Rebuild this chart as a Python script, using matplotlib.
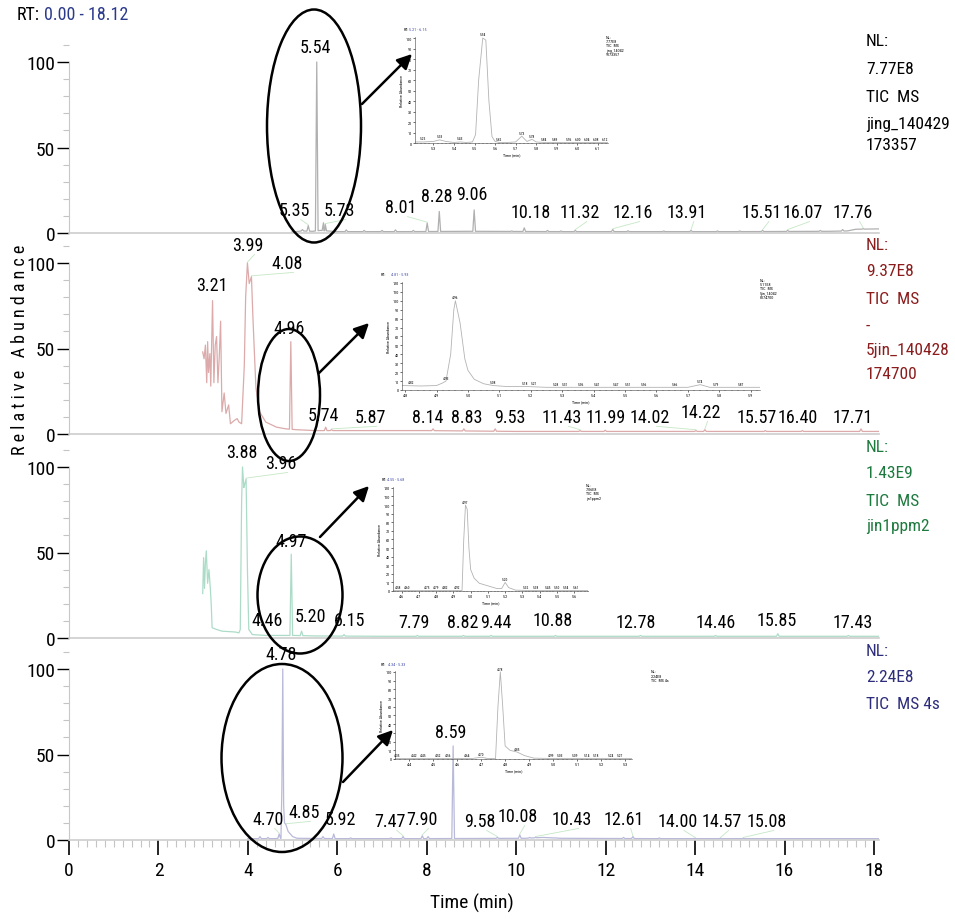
import numpy as np
import matplotlib.pyplot as plt
from matplotlib import font_manager
from matplotlib.patches import Ellipse, FancyArrowPatch
from matplotlib.ticker import MultipleLocator, FormatStrFormatter

W, H = 955, 920
XMAX = 18.12

# prefer a narrow sans face; fall back to a condensed DejaVu, then plain Liberation Sans
entries = font_manager.fontManager.ttflist
names = {f.name for f in entries}
narrow = [c for c in ('Liberation Sans Narrow', 'Arial Narrow', 'Roboto Condensed',
                      'Open Sans Condensed') if c in names]
if narrow:
    FONT, SHRINK = narrow[0], 1.0
elif any(f.name == 'DejaVu Sans' and f.stretch == 'condensed' for f in entries):
    FONT, SHRINK = 'DejaVu Sans', 0.95
    plt.rcParams['font.stretch'] = 'condensed'
else:
    FONT, SHRINK = 'Liberation Sans', 0.9
plt.rcParams['font.family'] = [FONT, 'DejaVu Sans']

# ---- panel 1: jing_140429173357 ----
p1_base_t = [4.98, 5.20, 5.45, 5.62, 6.0, 7.5, 9.0, 11.0, 13.0, 15.0, 17.0, 17.4, 17.6, 18.12]
p1_base_v = [0.5, 1.2, 1.0, 1.5, 0.8, 0.8, 1.0, 0.8, 0.8, 0.8, 1.0, 1.2, 2.2, 2.4]
p1_rt = [5.35, 5.54, 5.73, 8.01, 8.28, 9.06, 10.18, 11.32, 12.16, 13.91, 15.51, 16.07, 17.76]
p1_h = [4.3, 100, 5, 5.8, 12.6, 13.5, 3, 1.5, 2, 1.5, 1.5, 1.5, 2.5]
p1_minor_t = [5.22, 5.69, 6.2, 6.6, 7.0, 7.3, 7.7, 9.9, 10.7, 11.0, 12.5, 13.3, 14.5, 15.0, 16.8, 17.3]
p1_minor_h = [2, 6, 1.8, 1.5, 1.5, 1.8, 1.5, 1.2, 1.5, 1.2, 1.3, 1.2, 1.2, 1.2, 1.5, 2]
p1_lab_x = [5.03, 5.52, 6.04, 7.42, 8.23, 9.01, 10.33, 11.43, 12.61, 13.82, 15.50, 16.41, 17.53]
p1_lab_y = [13.4, 108.7, 13.4, 15.1, 21.5, 22.7, 12.2, 12.2, 12.2, 12.2, 12.2, 12.2, 12.2]
p1_info = ['NL:', '7.77E8', 'TIC  MS', 'jing_140429', '173357']

# ---- panel 2: 5jin_140428174700 ----
p2_base_t = [2.99, 3.02, 3.05, 3.08, 3.10, 3.12, 3.15, 3.17, 3.21, 3.24, 3.27, 3.30, 3.33,
             3.36, 3.39, 3.42, 3.47, 3.51, 3.57, 3.61, 3.70, 3.76, 3.80, 3.86, 3.92, 3.95,
             3.99, 4.03, 4.08, 4.11, 4.14, 4.18, 4.26, 4.40, 4.64, 4.85, 5.10, 5.50, 6.5,
             8.0, 10.0, 12.0, 14.0, 16.0, 18.12]
p2_base_v = [48, 44, 52, 30, 54, 36, 47, 28, 78, 30, 52, 57, 30,
             45, 66, 13, 24, 12, 17, 6, 8, 9, 7, 6, 40, 80,
             100, 88, 92, 70, 51, 27, 13, 7, 4, 3, 2.5, 2, 2,
             2, 1.5, 1.5, 1.5, 1.5, 1.5]
p2_rt = [3.21, 3.99, 4.08, 4.96, 5.74, 5.87, 8.14, 8.83, 9.53, 11.43, 11.99, 14.02, 14.22,
         15.57, 16.40, 17.71]
p2_spike_t = [4.96, 5.74, 5.87, 8.14, 8.83, 9.53, 11.43, 11.99, 14.02, 14.22, 15.57, 16.40, 17.71]
p2_spike_h = [54, 4, 2.5, 3, 3, 3, 2, 2.2, 2, 2.5, 2, 2, 3]
p2_lab_x = [3.20, 4.00, 4.87, 4.92, 5.68, 6.73, 8.01, 8.90, 9.86, 11.02, 12.01, 12.99, 14.13,
            15.38, 16.30, 17.53]
p2_lab_y = [87, 110.6, 100, 62, 11, 10, 10, 10, 10, 10, 10, 10, 13, 10, 10, 10]
p2_info = ['NL:', '9.37E8', 'TIC  MS', '-', '5jin_140428', '174700']

# ---- panel 3: jin1ppm2 ----
p3_base_t = [2.99, 3.01, 3.03, 3.05, 3.07, 3.10, 3.13, 3.16, 3.18, 3.20, 3.30, 3.42, 3.72,
             3.80, 3.83, 3.86, 3.88, 3.91, 3.93, 3.96, 3.99, 4.02, 4.10, 4.40, 4.90, 5.05,
             5.5, 7.0, 10.0, 13.0, 16.0, 18.12]
p3_base_v = [26, 47, 29, 44, 51, 32, 40, 29, 20, 6, 5, 4, 3.5,
             3, 5, 80, 100, 88, 90, 93, 40, 5, 2, 1.5, 1.5, 1.5,
             1.2, 1, 1, 1, 1, 1]
p3_rt = [3.88, 3.96, 4.97, 4.46, 5.20, 6.15, 7.79, 8.82, 9.44, 10.88, 12.78, 14.46, 15.85, 17.43]
p3_spike_t = [4.46, 4.97, 5.20, 6.15, 7.79, 8.82, 9.44, 10.88, 12.78, 14.46, 15.85, 17.43]
p3_spike_h = [1.5, 49, 4, 2, 1.5, 1.5, 1.5, 1.5, 1.5, 1.5, 2.5, 1.5]
p3_lab_x = [3.87, 4.74, 4.96, 4.43, 5.41, 6.28, 7.71, 8.81, 9.55, 10.82, 12.68, 14.47, 15.83, 17.53]
p3_lab_y = [108.7, 102.3, 57, 10.5, 12.8, 10.5, 9.3, 9.3, 9.3, 10.5, 9.3, 9.3, 10.5, 9.3]
p3_info = ['NL:', '1.43E9', 'TIC  MS', 'jin1ppm2']

# ---- panel 4: 4s ----
p4_base_t = [4.0, 4.6, 4.74, 4.76, 4.78, 4.80, 4.82, 4.85, 4.90, 5.00, 5.10, 6.0, 8.0,
             10.2, 10.6, 11.0, 13.0, 16.0, 18.12]
p4_base_v = [0.8, 0.8, 1.0, 30, 100, 20, 10, 9, 5, 2, 1, 0.8, 0.8,
             1.0, 1.5, 1.0, 0.8, 0.8, 0.8]
p4_rt = [4.78, 4.70, 4.85, 5.92, 7.47, 7.90, 8.59, 9.58, 10.08, 10.43, 12.61, 14.00, 14.57, 15.08]
p4_spike_t = [4.27, 4.45, 4.70, 5.68, 5.92, 6.3, 7.2, 7.47, 7.90, 8.03, 8.59, 9.58, 10.08,
              10.3, 10.43, 10.9, 12.4, 12.61, 13.2, 14.00, 14.57, 15.08]
p4_spike_h = [2, 1.5, 3.5, 2, 3.5, 1.2, 1.2, 2, 2.5, 2, 55, 1.5, 3,
              1.5, 1.5, 1.2, 1.5, 2, 1.2, 1, 1, 1]
p4_lab_x = [4.74, 4.45, 5.25, 6.08, 7.18, 7.89, 8.54, 9.19, 10.04, 11.25, 12.41, 13.60, 14.60, 15.61]
p4_lab_y = [108.8, 12.3, 16.4, 12.3, 11.1, 12.3, 63, 11.1, 14, 12.3, 12.3, 11.1, 11.1, 11.1]
p4_info = ['NL:', '2.24E8', 'TIC  MS 4s']

# ---- zoomed insets ----
in1_t = [5.21, 5.25, 5.30, 5.33, 5.36, 5.40, 5.43, 5.46, 5.49, 5.505, 5.52, 5.54, 5.555, 5.57,
         5.585, 5.60, 5.62, 5.66, 5.70, 5.73, 5.755, 5.78, 5.80, 5.84, 5.90, 5.96, 6.04, 6.15]
in1_v = [1, 1, 1.5, 3, 1.5, 0.5, 1, 0.5, 1, 8, 60, 100, 98, 40,
         6, 1.5, 0.5, 0.5, 1, 6.5, 1.5, 3.5, 1, 0.5, 0.5, 0.5, 0.5, 0.5]
in1_rt = [5.25, 5.33, 5.43, 5.54, 5.62, 5.73, 5.78, 5.84, 5.89, 5.96, 6.00, 6.04, 6.08, 6.12]

in2_t = [4.79, 4.85, 4.90, 4.92, 4.93, 4.945, 4.955, 4.96, 4.975, 4.99, 5.00, 5.02, 5.05, 5.08,
         5.12, 5.18, 5.25, 5.35, 5.45, 5.55, 5.65, 5.70, 5.74, 5.77, 5.82, 5.93]
in2_v = [5, 4.5, 5, 8, 10, 40, 90, 100, 75, 35, 22, 12, 7, 5,
         4, 4, 3, 3, 3, 3, 3, 3, 6, 3, 3, 3]
in2_rt = [4.82, 4.93, 4.96, 5.08, 5.18, 5.21, 5.28, 5.31, 5.36, 5.41, 5.47, 5.51, 5.56, 5.66,
          5.74, 5.79, 5.87]

in3_t = [4.55, 4.70, 4.85, 4.95, 4.96, 4.97, 4.98, 4.99, 5.00, 5.02, 5.05, 5.10, 5.15, 5.18,
         5.20, 5.22, 5.26, 5.35, 5.50, 5.68]
in3_v = [0.5, 0.5, 0.5, 0.5, 60, 100, 95, 50, 25, 15, 9, 6, 3, 3,
         10, 4, 1, 0.5, 0.5, 0.5]
in3_rt = [4.58, 4.60, 4.75, 4.79, 4.82, 4.92, 4.97, 5.20, 5.32, 5.38, 5.45, 5.50, 5.54, 5.61]

in4_t = [4.34, 4.50, 4.66, 4.70, 4.73, 4.76, 4.77, 4.78, 4.79, 4.80, 4.82, 4.85, 4.88, 4.92,
         5.00, 5.33]
in4_v = [0.5, 0.5, 0.5, 2, 0.5, 0.5, 60, 100, 60, 15, 10, 8, 4, 1, 0.5, 0.5]
in4_rt = [4.35, 4.42, 4.45, 4.52, 4.56, 4.64, 4.70, 4.78, 4.85, 4.99, 5.03, 5.09, 5.14, 5.18,
          5.24, 5.27]


def build_trace(base_t, base_v, spike_t, spike_h, w=0.03):
    base_t = np.asarray(base_t, float)
    base_v = np.asarray(base_v, float)
    keep = np.ones(len(base_t), bool)
    for p in spike_t:
        keep &= np.abs(base_t - p) > w
    ts = list(base_t[keep])
    vs = list(base_v[keep])
    for p, h in zip(spike_t, spike_h):
        for dt in (-w, w):
            ts.append(p + dt)
            vs.append(np.interp(p + dt, base_t, base_v))
        ts.append(p)
        vs.append(h)
    order = np.argsort(ts, kind='stable')
    return np.array(ts)[order], np.array(vs)[order]


def px_axes(fig, left, top, right, bottom, **kw):
    return fig.add_axes([left / W, 1 - bottom / H, (right - left) / W, (bottom - top) / H], **kw)


fig = plt.figure(figsize=(W / 100, H / 100), dpi=100)

X0, X1 = 69, 69 + XMAX * 44.72
SCALE = 1.71
YLO, YHI = -3, 117
FS_PEAK = 13 * SHRINK
FS_INFO = 12.5 * SHRINK
FS_TICK = 14 * SHRINK

panels = [
    dict(zero=234, base=(p1_base_t, p1_base_v), spikes=(p1_rt + p1_minor_t, p1_h + p1_minor_h),
         rt=p1_rt, lx=p1_lab_x, ly=p1_lab_y, color='#b0b0b0', info=p1_info, info_c='black',
         info_y=[42, 70, 98, 125, 145]),
    dict(zero=435, base=(p2_base_t, p2_base_v), spikes=(p2_spike_t, p2_spike_h),
         rt=p2_rt, lx=p2_lab_x, ly=p2_lab_y, color='#dcaaaa', info=p2_info, info_c='#8b1c1c',
         info_y=[246, 272, 300, 326, 350, 375]),
    dict(zero=639, base=(p3_base_t, p3_base_v), spikes=(p3_spike_t, p3_spike_h),
         rt=p3_rt, lx=p3_lab_x, ly=p3_lab_y, color='#acdcc8', info=p3_info, info_c='#1d7a3e',
         info_y=[448, 474, 502, 527]),
    dict(zero=841, base=(p4_base_t, p4_base_v), spikes=(p4_spike_t, p4_spike_h),
         rt=p4_rt, lx=p4_lab_x, ly=p4_lab_y, color='#b9b9da', info=p4_info, info_c='#2d2d7c',
         info_y=[652, 678, 705]),
]

for i, p in enumerate(panels):
    top = p['zero'] - YHI * SCALE
    bot = p['zero'] - YLO * SCALE
    ax = px_axes(fig, X0, top, X1, bot)
    ax.patch.set_alpha(0)
    t, v = build_trace(*p['base'], *p['spikes'])
    ax.plot(t, v, color=p['color'], lw=0.9, zorder=2)
    ax.set_xlim(0, XMAX)
    ax.set_ylim(YLO, YHI)

    # peak labels with pale leader lines back to the apex
    for rt, lx, ly in zip(p['rt'], p['lx'], p['ly']):
        h = np.interp(rt, t, v)
        ax.text(lx, ly, f'{rt:.2f}', ha='center', va='center', fontsize=FS_PEAK, zorder=4)
        if np.hypot((lx - rt) * 10, ly - 5.5 - h) > 4:
            ax.plot([rt, lx + 0.15], [h + 0.5, ly - 5.5], color='#c4e8c4', lw=0.6, zorder=1)

    for s in ('top', 'right'):
        ax.spines[s].set_visible(False)
    ax.spines['left'].set_bounds(0, 100)
    ax.spines['left'].set_color('#c8c8c8')
    ax.spines['bottom'].set_position(('data', 0))
    ax.spines['bottom'].set_color('#cdcdcd')
    ax.spines['bottom'].set_linewidth(1.2)

    ax.set_yticks([0, 50, 100])
    ax.yaxis.set_minor_locator(MultipleLocator(10))
    ax.tick_params(axis='y', which='major', length=9, width=1, color='black',
                   labelsize=FS_TICK, pad=1)
    ax.tick_params(axis='y', which='minor', length=4, width=0.8, color='#c4c4c4')

    if i == 3:
        ax.set_xticks(np.arange(0, 19, 2))
        ax.xaxis.set_minor_locator(MultipleLocator(0.2))
        ax.tick_params(axis='x', which='major', length=11, width=1.2, color='black',
                       labelsize=FS_TICK, pad=4)
        ax.tick_params(axis='x', which='minor', length=5, width=0.8, color='#c4c4c4')
    else:
        ax.tick_params(axis='x', which='both', bottom=False, labelbottom=False)

    for s, y in zip(p['info'], p['info_y']):
        fig.text(866 / W, 1 - y / H, s, fontsize=FS_INFO, color=p['info_c'], va='center')

fig.text(17 / W, 1 - 15 / H, 'RT:', fontsize=13 * SHRINK, va='center')
fig.text(44 / W, 1 - 15 / H, '0.00 - 18.12', fontsize=13 * SHRINK, va='center', color='#2c3a8c')
fig.text(20 / W, 1 - 350 / H, 'R e l a t i v e   A b u n d a n c e', rotation=90,
         fontsize=13 * SHRINK, ha='center', va='center')
fig.text(472 / W, 1 - 903 / H, 'Time (min)', fontsize=14 * SHRINK, ha='center', va='center')


def draw_inset(rect, xlim, ymax, t, v, rts, title, nl, nl_pos):
    ax = px_axes(fig, *rect)
    ax.patch.set_alpha(0)
    ax.plot(t, v, color='#b3b3b3', lw=0.6)
    ax.set_xlim(*xlim)
    ax.set_ylim(0, ymax)
    for s in ('top', 'right'):
        ax.spines[s].set_visible(False)
    for s in ('left', 'bottom'):
        ax.spines[s].set_linewidth(0.4)
        ax.spines[s].set_color('#444444')
    ax.xaxis.set_major_locator(MultipleLocator(0.1))
    ax.xaxis.set_minor_locator(MultipleLocator(0.02))
    ax.xaxis.set_major_formatter(FormatStrFormatter('%.1f'))
    ax.yaxis.set_major_locator(MultipleLocator(10))
    ax.tick_params(labelsize=3, length=1.5, width=0.4, pad=1)
    ax.tick_params(which='minor', length=0.8, width=0.3)
    ax.set_xlabel('Time (min)', fontsize=3, labelpad=1)
    ax.set_ylabel('Relative Abundance', fontsize=3, labelpad=1)
    # spread crowded baseline labels so neighbours do not collide
    min_gap = 9 * (xlim[1] - xlim[0]) / (rect[2] - rect[0])
    last = -np.inf
    for rt in rts:
        y = np.interp(rt, t, v)
        x = rt if y > 20 else max(rt, last + min_gap)
        if y <= 20:
            last = x
        ax.text(x, y + 1.5, f'{rt:.2f}', fontsize=2.6, ha='center', va='bottom')
    ax.text(-0.06, 1.06, 'RT:', fontsize=3, transform=ax.transAxes, va='bottom')
    ax.text(-0.03, 1.06, title, fontsize=3, color='#3d49a8', transform=ax.transAxes,
            va='bottom')
    ax.text(nl_pos[0], nl_pos[1], '\n'.join(nl), fontsize=3, transform=ax.transAxes,
            va='top', linespacing=1.1)


draw_inset((415, 38, 608, 144), (5.21, 6.15), 101, in1_t, in1_v, in1_rt, '5.21 - 6.15',
           ['NL:', '7.77E8', 'TIC  MS', 'jing_14042', '9173357'], (0.99, 1.02))
draw_inset((402, 283, 760, 391), (4.79, 5.93), 121, in2_t, in2_v, in2_rt, '4.81 - 5.93',
           ['NL:', '5.11E8', 'TIC  MS', '5jin_14042', '8174700'], (1.0, 1.04))
draw_inset((393, 488, 588, 592), (4.55, 5.68), 121, in3_t, in3_v, in3_rt, '4.55 - 5.68',
           ['NL:', '7.06E8', 'TIC  MS', 'jin1ppm2'], (0.99, 1.04))
draw_inset((395, 672, 632, 760), (4.34, 5.33), 101, in4_t, in4_v, in4_rt, '4.34 - 5.33',
           ['NL:', '2.24E8', 'TIC  MS 4s'], (1.08, 1.02))

# callout ellipses and arrows drawn in pixel space
over = fig.add_axes([0, 0, 1, 1], zorder=5)
over.set_xlim(0, W)
over.set_ylim(H, 0)
over.axis('off')
over.patch.set_alpha(0)
ellipses = [((314, 127), 94, 233), ((289, 396), 62, 132), ((300, 596), 85, 117), ((282, 759), 121, 188)]
arrows = [((362, 105), (412, 55)), ((319, 374), (369, 324)), ((320, 538), (369, 487)),
          ((343, 783), (393, 731))]
for (c, w, h) in ellipses:
    over.add_patch(Ellipse(c, w, h, fill=False, lw=1.8, color='black'))
for a, b in arrows:
    over.add_patch(FancyArrowPatch(a, b, arrowstyle='-|>', mutation_scale=22, lw=1.8,
                                   color='black', shrinkA=0, shrinkB=0))

fig.savefig('out.png', dpi=100)
